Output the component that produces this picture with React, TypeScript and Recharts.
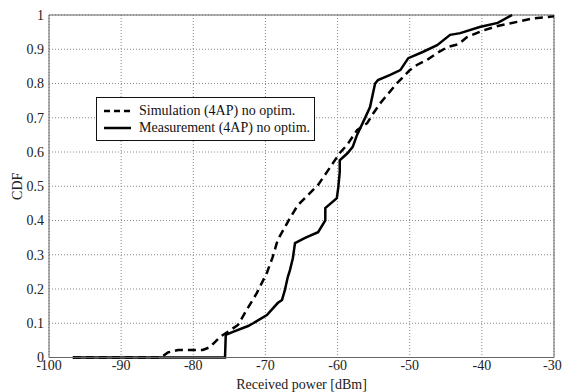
import React from "react";
import {
  CartesianGrid,
  Line,
  LineChart,
  ReferenceLine,
  XAxis,
  YAxis,
} from "recharts";

const simPower = [
  -96.7, -84.5, -83.5, -82.1, -78.7, -77.7, -76.3, -75.2, -73.8, -72.6, -71.2, -69.8, -69.0,
  -68.3, -66.6, -65.5, -62.7, -61.3, -59.7, -58.7, -57.3, -55.9, -55.2, -54.1, -53.4, -51.8,
  -51.1, -50.0, -49.0, -47.6, -46.2, -44.7, -43.2, -42.1, -39.8, -37.8, -35.1, -32.9, -30.0,
];
const simCdf = [
  0, 0, 0.015, 0.022, 0.022, 0.03, 0.06, 0.075, 0.095, 0.139, 0.188, 0.247, 0.293, 0.343, 0.407,
  0.445, 0.504, 0.547, 0.597, 0.62, 0.664, 0.684, 0.708, 0.742, 0.76, 0.8, 0.815, 0.839, 0.854,
  0.869, 0.889, 0.907, 0.915, 0.935, 0.955, 0.968, 0.98, 0.99, 0.996,
];

const measPower = [
  -96.7, -75.6, -75.5, -74.5, -72.4, -71.7, -69.8, -68.3, -67.7, -67.3, -66.9, -66.6, -66.2,
  -65.9, -64.5, -62.7, -61.7, -61.7, -60.1, -59.9, -59.7, -59.7, -58.6, -57.9, -57.3, -56.2,
  -55.5, -54.8, -54.4, -52.7, -51.3, -50.2, -48.2, -46.2, -44.4, -43.0, -40.3, -37.8, -35.8,
];
const measCdf = [
  0, 0, 0.066, 0.075, 0.092, 0.1, 0.124, 0.159, 0.168, 0.197, 0.235, 0.255, 0.29, 0.334, 0.349,
  0.366, 0.4, 0.436, 0.465, 0.497, 0.541, 0.576, 0.597, 0.615, 0.65, 0.699, 0.731, 0.8, 0.81,
  0.825, 0.839, 0.874, 0.892, 0.912, 0.942, 0.947, 0.965, 0.977, 1.0,
];

const xTicks = [-100, -90, -80, -70, -60, -50, -40, -30];
const yTicks = [0, 0.1, 0.2, 0.3, 0.4, 0.5, 0.6, 0.7, 0.8, 0.9, 1];

const simData = simPower.map((p, i) => ({ power: p, cdf: simCdf[i] }));
const measData = measPower.map((p, i) => ({ power: p, cdf: measCdf[i] }));

const font = "'Liberation Serif', 'Times New Roman', serif";
const textStyle = { fill: "#222", fontSize: 14, fontFamily: font };

// recharts drops fontFamily on plain tick objects, so draw the tick text ourselves
const renderTick = (props: any) => {
  const { x, y, payload, textAnchor, verticalAnchor } = props;
  const dy = verticalAnchor === "start" ? "0.71em" : "0.355em";
  return (
    <text
      x={x}
      y={y}
      dy={dy}
      textAnchor={textAnchor}
      fill="#222"
      fontSize={14}
      fontFamily={font}
    >
      {payload.value}
    </text>
  );
};

// legend box drawn over the plot, like the matlab legend
function LegendBox() {
  const row = (dash: string | undefined, text: string) => (
    <div style={{ display: "flex", alignItems: "center", height: 17 }}>
      <svg width={42} height={10}>
        <line x1={7} y1={5} x2={34} y2={5} stroke="#000" strokeWidth={2.5} strokeDasharray={dash} />
      </svg>
      <span style={{ fontFamily: font, fontSize: 14, color: "#111", lineHeight: "17px" }}>{text}</span>
    </div>
  );
  return (
    <div
      style={{
        position: "absolute",
        left: 96,
        top: 97,
        width: 217,
        height: 38,
        paddingTop: 4,
        border: "1.5px solid #111",
        background: "#fff",
      }}
    >
      {row("6 4", "Simulation (4AP) no optim.")}
      {row(undefined, "Measurement (4AP) no optim.")}
    </div>
  );
}

export default function App() {
  return (
    <div style={{ position: "absolute", left: 0, top: 0, width: 563, height: 392, background: "#fff", fontFamily: font }}>
      <LineChart
        width={563}
        height={392}
        margin={{ top: 15, right: 9, bottom: 0, left: 0 }}
        style={{ fontFamily: font }}
      >
        <CartesianGrid stroke="#888" strokeDasharray="1 2" />
        <XAxis
          type="number"
          dataKey="power"
          domain={[-100, -30]}
          ticks={xTicks}
          height={34.5}
          tickSize={0}
          tickMargin={3}
          tick={renderTick}
          axisLine={{ stroke: "#666" }}
          allowDuplicatedCategory={false}
          label={{
            value: "Received power [dBm]",
            position: "insideBottom",
            offset: 3,
            style: textStyle,
          }}
        />
        <YAxis
          type="number"
          dataKey="cdf"
          domain={[0, 1]}
          ticks={yTicks}
          width={49}
          tickSize={0}
          tickMargin={5}
          tick={renderTick}
          axisLine={{ stroke: "#666" }}
          label={{
            value: "CDF",
            angle: -90,
            position: "center",
            dx: -7,
            style: textStyle,
          }}
        />
        <ReferenceLine y={1} stroke="#666" />
        <ReferenceLine x={-30} stroke="#666" />
        <Line
          data={simData}
          dataKey="cdf"
          type="linear"
          stroke="#000"
          strokeWidth={2.5}
          strokeDasharray="8 5"
          dot={false}
          isAnimationActive={false}
        />
        <Line
          data={measData}
          dataKey="cdf"
          type="linear"
          stroke="#000"
          strokeWidth={2.5}
          dot={false}
          isAnimationActive={false}
        />
      </LineChart>
      <LegendBox />
    </div>
  );
}
